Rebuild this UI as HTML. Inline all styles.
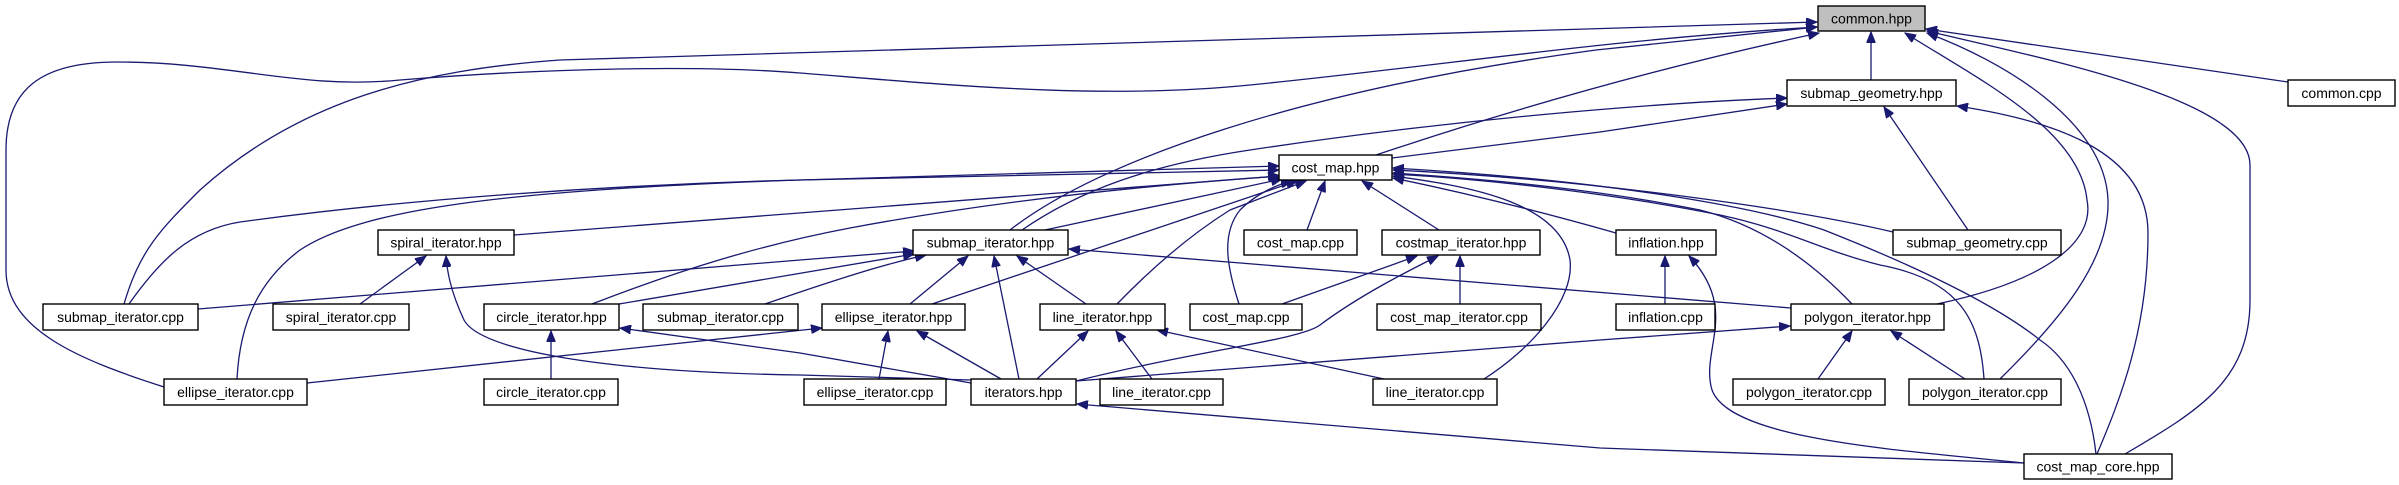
<!DOCTYPE html>
<html><head><meta charset="utf-8"><style>
html,body{margin:0;padding:0;background:#fff;}
svg{display:block;}
text{font-family:"Liberation Sans",sans-serif;font-size:14px;fill:#000;}
.e{fill:none;stroke:#191970;stroke-width:1.3;marker-end:url(#a);}
.n{fill:#fff;stroke:#000;stroke-width:1.4;}
</style></head><body>
<svg width="2399" height="485" viewBox="0 0 2399 485" xmlns="http://www.w3.org/2000/svg">
<defs><marker id="a" markerUnits="userSpaceOnUse" markerWidth="12" markerHeight="9" refX="11" refY="4.5" orient="auto"><path d="M0,0 L11,4.5 L0,9 z" fill="#191970" stroke="#191970"/></marker></defs>
<g>
<path class="e" d="M1871,80 L1871,32"/>
<path class="e" d="M2288,82 L1926,29"/>
<path class="e" d="M1376,155 Q1600,80 1819,33"/>
<path class="e" d="M1010,230 C1100,160 1300,90 1596,50 L1817,27"/>
<path class="e" d="M124,304 C140,250 160,230 200,190 C300,100 420,70 560,60 L1817,22"/>
<path class="e" d="M164,387 C80,360 6,330 6,270 L6,150 C6,90 40,62 117,62 C230,62 300,90 400,80 C550,68 700,65 800,73 C950,85 1100,100 1250,85 C1450,65 1600,40 1817,27"/>
<path class="e" d="M1937,304 C2050,280 2095,240 2087,200 C2080,130 1980,80 1905,33"/>
<path class="e" d="M2000,379 C2060,320 2110,260 2108,200 C2105,120 2000,60 1927,33"/>
<path class="e" d="M2125,454 C2200,410 2250,380 2250,300 L2250,165 C2250,100 2050,60 1927,31"/>
<path class="e" d="M1392,158 L1600,132 L1787,104"/>
<path class="e" d="M1022,230 C1080,190 1150,165 1250,150 C1450,120 1650,103 1787,98"/>
<path class="e" d="M1968,230 L1884,107"/>
<path class="e" d="M2097,454 C2120,400 2148,330 2148,233 C2148,150 2050,120 1957,106"/>
<path class="e" d="M129,304 C160,260 190,230 240,222 C400,200 600,185 800,180 L1279,170"/>
<path class="e" d="M237,379 C240,320 260,280 300,250 C360,210 500,190 800,180 L1279,166"/>
<path class="e" d="M514,235 L1279,176"/>
<path class="e" d="M1045,230 L1282,179"/>
<path class="e" d="M592,304 C680,270 760,245 850,228 C1000,200 1150,185 1281,176"/>
<path class="e" d="M932,304 L1297,181"/>
<path class="e" d="M1117,304 C1150,270 1190,235 1230,210 L1306,181"/>
<path class="e" d="M1307,230 L1325,181"/>
<path class="e" d="M1239,304 C1228,270 1220,235 1240,210 C1255,195 1275,185 1292,181"/>
<path class="e" d="M1439,230 L1362,181"/>
<path class="e" d="M1484,379 C1530,350 1575,300 1570,260 C1560,200 1460,185 1393,176"/>
<path class="e" d="M1616,233 Q1500,200 1393,178"/>
<path class="e" d="M1893,232 C1800,210 1600,180 1393,170"/>
<path class="e" d="M1852,304 C1810,260 1760,225 1700,210 C1600,190 1500,180 1393,173"/>
<path class="e" d="M1984,379 C1980,320 1960,280 1880,265 C1820,250 1790,230 1720,215 C1620,195 1500,180 1393,174"/>
<path class="e" d="M2096,454 C2090,400 2070,360 2040,340 C1990,300 1900,260 1824,230 C1750,205 1600,180 1393,168"/>
<path class="e" d="M198,309 L800,260 L914,251"/>
<path class="e" d="M619,304 L914,254"/>
<path class="e" d="M765,304 C820,285 880,265 926,255"/>
<path class="e" d="M910,304 L968,256"/>
<path class="e" d="M1019,379 L994,256"/>
<path class="e" d="M1086,304 L1017,256"/>
<path class="e" d="M1791,308 L1069,249"/>
<path class="e" d="M360,304 L426,256"/>
<path class="e" d="M971,380 L800,375 C600,372 480,350 464,320 C450,290 447,270 446,256"/>
<path class="e" d="M551,379 L551,331"/>
<path class="e" d="M971,383 L800,353 L620,328"/>
<path class="e" d="M307,383 L822,328"/>
<path class="e" d="M879,379 L888,331"/>
<path class="e" d="M1001,379 L917,331"/>
<path class="e" d="M1037,379 L1088,331"/>
<path class="e" d="M1152,379 L1116,331"/>
<path class="e" d="M1384,379 L1157,330"/>
<path class="e" d="M1282,304 L1417,256"/>
<path class="e" d="M1076,381 C1200,350 1300,340 1320,325 C1360,295 1410,270 1438,256"/>
<path class="e" d="M1460,304 L1460,256"/>
<path class="e" d="M1665,304 L1665,256"/>
<path class="e" d="M2024,463 C1900,450 1730,440 1712,390 C1700,350 1740,310 1689,256"/>
<path class="e" d="M1076,381 L1600,340 L1790,326"/>
<path class="e" d="M1818,379 L1852,331"/>
<path class="e" d="M1965,379 L1891,331"/>
<path class="e" d="M2024,463 L1600,448 L1077,404"/>
</g>
<g>
<rect x="1818" y="6" width="107" height="25" style="fill:#bfbfbf;stroke:#000;stroke-width:1.4"/><text x="1871.5" y="23.5" text-anchor="middle">common.hpp</text>
<rect class="n" x="1787" y="80" width="169" height="26"/><text x="1871.5" y="98" text-anchor="middle">submap_geometry.hpp</text>
<rect class="n" x="2288" y="80" width="107" height="26"/><text x="2341.5" y="98" text-anchor="middle">common.cpp</text>
<rect class="n" x="1279" y="155" width="113" height="25"/><text x="1335.5" y="172.5" text-anchor="middle">cost_map.hpp</text>
<rect class="n" x="913" y="230" width="155" height="25"/><text x="990.5" y="247.5" text-anchor="middle">submap_iterator.hpp</text>
<rect class="n" x="378" y="230" width="136" height="25"/><text x="446" y="247.5" text-anchor="middle">spiral_iterator.hpp</text>
<rect class="n" x="1244" y="230" width="113" height="25"/><text x="1300.5" y="247.5" text-anchor="middle">cost_map.cpp</text>
<rect class="n" x="1382" y="230" width="158" height="25"/><text x="1461" y="247.5" text-anchor="middle">costmap_iterator.hpp</text>
<rect class="n" x="1616" y="230" width="100" height="25"/><text x="1666" y="247.5" text-anchor="middle">inflation.hpp</text>
<rect class="n" x="1893" y="230" width="168" height="25"/><text x="1977" y="247.5" text-anchor="middle">submap_geometry.cpp</text>
<rect class="n" x="43" y="304" width="155" height="26"/><text x="120.5" y="322" text-anchor="middle">submap_iterator.cpp</text>
<rect class="n" x="273" y="304" width="136" height="26"/><text x="341" y="322" text-anchor="middle">spiral_iterator.cpp</text>
<rect class="n" x="484" y="304" width="135" height="26"/><text x="551.5" y="322" text-anchor="middle">circle_iterator.hpp</text>
<rect class="n" x="643" y="304" width="155" height="26"/><text x="720.5" y="322" text-anchor="middle">submap_iterator.cpp</text>
<rect class="n" x="822" y="304" width="143" height="26"/><text x="893.5" y="322" text-anchor="middle">ellipse_iterator.hpp</text>
<rect class="n" x="1040" y="304" width="125" height="26"/><text x="1102.5" y="322" text-anchor="middle">line_iterator.hpp</text>
<rect class="n" x="1190" y="304" width="112" height="26"/><text x="1246" y="322" text-anchor="middle">cost_map.cpp</text>
<rect class="n" x="1377" y="304" width="164" height="26"/><text x="1459" y="322" text-anchor="middle">cost_map_iterator.cpp</text>
<rect class="n" x="1616" y="304" width="99" height="26"/><text x="1665.5" y="322" text-anchor="middle">inflation.cpp</text>
<rect class="n" x="1791" y="304" width="153" height="26"/><text x="1867.5" y="322" text-anchor="middle">polygon_iterator.hpp</text>
<rect class="n" x="164" y="379" width="143" height="26"/><text x="235.5" y="397" text-anchor="middle">ellipse_iterator.cpp</text>
<rect class="n" x="484" y="379" width="134" height="26"/><text x="551" y="397" text-anchor="middle">circle_iterator.cpp</text>
<rect class="n" x="804" y="379" width="142" height="26"/><text x="875" y="397" text-anchor="middle">ellipse_iterator.cpp</text>
<rect class="n" x="971" y="379" width="105" height="26"/><text x="1023.5" y="397" text-anchor="middle">iterators.hpp</text>
<rect class="n" x="1100" y="379" width="123" height="26"/><text x="1161.5" y="397" text-anchor="middle">line_iterator.cpp</text>
<rect class="n" x="1373" y="379" width="124" height="26"/><text x="1435" y="397" text-anchor="middle">line_iterator.cpp</text>
<rect class="n" x="1733" y="379" width="152" height="26"/><text x="1809" y="397" text-anchor="middle">polygon_iterator.cpp</text>
<rect class="n" x="1909" y="379" width="152" height="26"/><text x="1985" y="397" text-anchor="middle">polygon_iterator.cpp</text>
<rect class="n" x="2024" y="454" width="148" height="25"/><text x="2098" y="471.5" text-anchor="middle">cost_map_core.hpp</text>
</g>
</svg>
</body></html>
